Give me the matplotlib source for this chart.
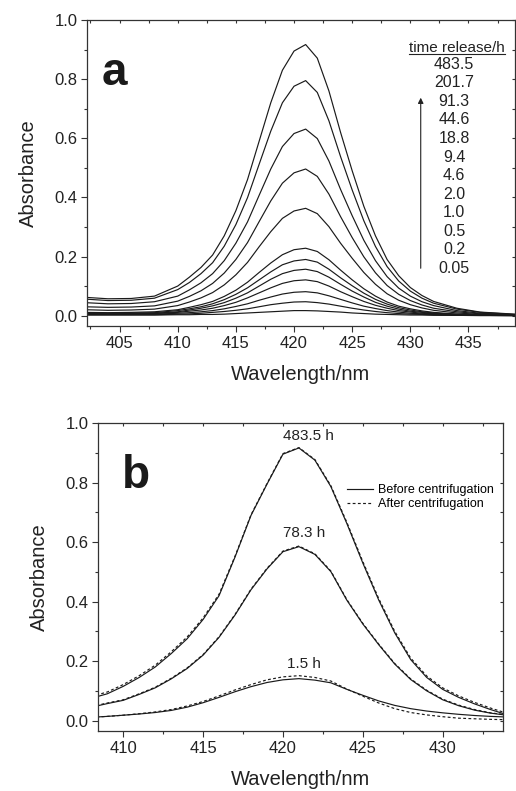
import numpy as np
import matplotlib
matplotlib.use("Agg")
import matplotlib.pyplot as plt
from matplotlib.ticker import MultipleLocator
from matplotlib.lines import Line2D

plt.rcParams['font.family'] = ['Liberation Sans', 'DejaVu Sans']

# ---- panel a: release spectra at increasing times ----
wl_a = [402, 404, 406, 408, 410, 411, 412, 413, 414, 415, 416, 417, 418, 419, 420,
        421, 422, 423, 424, 425, 426, 427, 428, 429, 430, 431, 432, 434, 436, 439]

a_483_5 = [0.062, 0.057, 0.058, 0.066, 0.100, 0.130, 0.163, 0.205, 0.270, 0.355, 0.460, 0.590, 0.720, 0.830, 0.895,
           0.917, 0.871, 0.760, 0.620, 0.490, 0.370, 0.270, 0.190, 0.135, 0.095, 0.068, 0.048, 0.025, 0.012, 0.005]
a_201_7 = [0.056, 0.051, 0.052, 0.059, 0.088, 0.112, 0.142, 0.179, 0.235, 0.308, 0.399, 0.512, 0.624, 0.720, 0.776,
           0.795, 0.755, 0.659, 0.538, 0.425, 0.321, 0.234, 0.166, 0.117, 0.083, 0.059, 0.042, 0.022, 0.011, 0.004]
a_91_3 = [0.044, 0.040, 0.041, 0.047, 0.066, 0.087, 0.111, 0.142, 0.186, 0.245, 0.317, 0.407, 0.496, 0.572, 0.616,
          0.631, 0.599, 0.523, 0.427, 0.338, 0.255, 0.186, 0.132, 0.093, 0.066, 0.047, 0.034, 0.017, 0.008, 0.003]
a_44_6 = [0.030, 0.028, 0.029, 0.033, 0.049, 0.065, 0.084, 0.109, 0.144, 0.190, 0.247, 0.318, 0.388, 0.448, 0.483,
          0.496, 0.471, 0.411, 0.335, 0.264, 0.199, 0.145, 0.102, 0.072, 0.051, 0.036, 0.025, 0.013, 0.006, 0.002]
a_18_8 = [0.020, 0.018, 0.019, 0.022, 0.034, 0.046, 0.060, 0.078, 0.104, 0.138, 0.180, 0.233, 0.284, 0.329, 0.354,
          0.363, 0.345, 0.301, 0.245, 0.194, 0.146, 0.106, 0.074, 0.052, 0.037, 0.026, 0.018, 0.009, 0.004, 0.002]
a_9_4 = [0.011, 0.010, 0.011, 0.013, 0.020, 0.028, 0.037, 0.048, 0.065, 0.086, 0.113, 0.146, 0.178, 0.206, 0.223,
         0.228, 0.217, 0.189, 0.154, 0.121, 0.091, 0.066, 0.046, 0.032, 0.023, 0.016, 0.011, 0.005, 0.003, 0.001]
a_4_6 = [0.009, 0.008, 0.009, 0.010, 0.017, 0.023, 0.030, 0.040, 0.054, 0.072, 0.094, 0.121, 0.148, 0.172, 0.185,
         0.190, 0.181, 0.157, 0.128, 0.101, 0.076, 0.055, 0.039, 0.027, 0.019, 0.013, 0.009, 0.004, 0.002, 0.001]
a_2_0 = [0.007, 0.006, 0.007, 0.008, 0.013, 0.019, 0.025, 0.033, 0.044, 0.059, 0.077, 0.100, 0.123, 0.142, 0.153,
         0.157, 0.149, 0.130, 0.106, 0.083, 0.063, 0.045, 0.032, 0.022, 0.015, 0.011, 0.007, 0.004, 0.002, 0.001]
a_1_0 = [0.006, 0.005, 0.005, 0.007, 0.011, 0.015, 0.019, 0.025, 0.034, 0.045, 0.060, 0.077, 0.094, 0.109, 0.118,
         0.121, 0.115, 0.100, 0.081, 0.064, 0.048, 0.035, 0.025, 0.017, 0.012, 0.008, 0.006, 0.003, 0.001, 0.001]
a_0_5 = [0.004, 0.004, 0.004, 0.005, 0.008, 0.010, 0.013, 0.017, 0.023, 0.031, 0.040, 0.052, 0.063, 0.073, 0.079,
         0.081, 0.077, 0.067, 0.055, 0.043, 0.032, 0.024, 0.017, 0.012, 0.008, 0.006, 0.004, 0.002, 0.001, 0.000]
a_0_2 = [0.003, 0.003, 0.003, 0.003, 0.005, 0.006, 0.008, 0.011, 0.014, 0.018, 0.023, 0.030, 0.037, 0.042, 0.046,
         0.047, 0.044, 0.039, 0.032, 0.025, 0.019, 0.014, 0.010, 0.007, 0.005, 0.004, 0.003, 0.001, 0.001, 0.000]
a_0_05 = [0.002, 0.002, 0.002, 0.002, 0.003, 0.003, 0.004, 0.004, 0.005, 0.007, 0.009, 0.011, 0.013, 0.015, 0.017,
          0.017, 0.016, 0.014, 0.012, 0.009, 0.007, 0.005, 0.004, 0.003, 0.002, 0.002, 0.001, 0.001, 0.000, 0.000]

curves_a = [a_483_5, a_201_7, a_91_3, a_44_6, a_18_8, a_9_4, a_4_6, a_2_0, a_1_0, a_0_5, a_0_2, a_0_05]
times_a = ["483.5", "201.7", "91.3", "44.6", "18.8", "9.4", "4.6", "2.0", "1.0", "0.5", "0.2", "0.05"]

# ---- panel b: before / after centrifugation ----
wl_b = [408, 409, 410, 411, 412, 413, 414, 415, 416, 417, 418, 419, 420, 421,
        422, 423, 424, 425, 426, 427, 428, 429, 430, 431, 432, 433, 434]

b_483_5_before = [0.075, 0.090, 0.115, 0.145, 0.180, 0.225, 0.275, 0.340, 0.420, 0.550, 0.690, 0.795, 0.896, 0.917,
                  0.876, 0.787, 0.663, 0.530, 0.405, 0.295, 0.205, 0.145, 0.105, 0.078, 0.056, 0.037, 0.020]
b_483_5_after = [0.081, 0.096, 0.121, 0.151, 0.186, 0.231, 0.281, 0.345, 0.425, 0.553, 0.692, 0.797, 0.898, 0.918,
                 0.878, 0.790, 0.667, 0.535, 0.410, 0.300, 0.210, 0.150, 0.110, 0.083, 0.061, 0.042, 0.025]
b_78_3_before = [0.045, 0.057, 0.068, 0.088, 0.110, 0.140, 0.175, 0.220, 0.280, 0.355, 0.440, 0.510, 0.568, 0.585,
                 0.559, 0.501, 0.405, 0.325, 0.255, 0.190, 0.138, 0.100, 0.070, 0.050, 0.035, 0.025, 0.018]
b_78_3_after = [0.047, 0.059, 0.070, 0.090, 0.112, 0.142, 0.177, 0.222, 0.282, 0.357, 0.442, 0.512, 0.570, 0.587,
                0.561, 0.503, 0.407, 0.327, 0.257, 0.192, 0.140, 0.102, 0.072, 0.052, 0.037, 0.026, 0.019]
b_1_5_before = [0.011, 0.014, 0.018, 0.022, 0.027, 0.034, 0.045, 0.060, 0.078, 0.097, 0.114, 0.128, 0.137, 0.141,
                0.136, 0.127, 0.105, 0.085, 0.066, 0.051, 0.040, 0.032, 0.026, 0.021, 0.017, 0.014, 0.012]
b_1_5_after = [0.011, 0.014, 0.018, 0.023, 0.029, 0.037, 0.049, 0.064, 0.083, 0.103, 0.121, 0.137, 0.147, 0.151,
               0.145, 0.133, 0.106, 0.082, 0.059, 0.040, 0.027, 0.019, 0.013, 0.008, 0.006, 0.004, 0.003]

labels_b = ["483.5 h", "78.3 h", "1.5 h"]
label_pos_b = [(421.6, 0.957), (421.35, 0.630), (421.3, 0.191)]

ink = '#1a1a1a'


def style_axes(ax, xmajor, xminor):
    for sp in ax.spines.values():
        sp.set_linewidth(0.9)
        sp.set_color('#333333')
    ax.xaxis.set_major_locator(MultipleLocator(xmajor))
    ax.xaxis.set_minor_locator(MultipleLocator(xminor))
    ax.yaxis.set_major_locator(MultipleLocator(0.2))
    ax.yaxis.set_minor_locator(MultipleLocator(0.1))
    ax.tick_params(which='major', direction='out', length=4, width=0.8, labelsize=12,
                   colors='#333333', labelcolor='#222222', pad=3)
    ax.tick_params(which='minor', direction='out', length=2.3, width=0.8, colors='#333333')
    ax.yaxis.set_major_formatter(plt.FuncFormatter(lambda v, p: f"{v:.1f}"))
    # mirrored ticks on top / right, pointing inwards
    top = ax.secondary_xaxis('top')
    top.xaxis.set_major_locator(MultipleLocator(xmajor))
    top.xaxis.set_minor_locator(MultipleLocator(xminor))
    top.tick_params(which='both', direction='in', length=2.5, width=0.8, labeltop=False, colors='#333333')
    top.spines['top'].set_visible(False)
    right = ax.secondary_yaxis('right')
    right.yaxis.set_major_locator(MultipleLocator(0.2))
    right.yaxis.set_minor_locator(MultipleLocator(0.1))
    right.tick_params(which='both', direction='in', length=2.5, width=0.8, labelright=False, colors='#333333')
    right.spines['right'].set_visible(False)
    ax.set_xlabel('Wavelength/nm', fontsize=14.5, color='#222222', labelpad=10)
    ax.set_ylabel('Absorbance', fontsize=14.5, color='#222222', labelpad=12)


fig = plt.figure(figsize=(5.16, 7.91), dpi=100)

# panel a
ax1 = fig.add_axes([0.1686, 0.5879, 0.8295, 0.3868])
for ys in curves_a:
    ax1.plot(wl_a, ys, color=ink, lw=0.85)
ax1.set_xlim(402.2, 439.0)
ax1.set_ylim(-0.035, 1.0)
style_axes(ax1, 5, 2.5)
ax1.text(0.035, 0.788, 'a', transform=ax1.transAxes, fontsize=33, fontweight='bold',
         color='#1a1a1a', ha='left', va='baseline')
ax1.text(0.8645, 0.897, 'time release/h', transform=ax1.transAxes, fontsize=11,
         color='#222222', ha='center', va='baseline')
ax1.plot([0.752, 0.977], [0.889, 0.889], transform=ax1.transAxes, color='#222222', lw=0.8)
ys_lab = np.linspace(0.855, 0.1886, len(times_a))
for t, yy in zip(times_a, ys_lab):
    ax1.text(0.858, yy, t, transform=ax1.transAxes, fontsize=11.5, color='#222222',
             ha='center', va='center')
ax1.annotate('', xy=(0.7797, 0.746), xytext=(0.7797, 0.1886), xycoords='axes fraction',
             arrowprops=dict(arrowstyle='-|>', lw=0.8, color='#222222', mutation_scale=8,
                             shrinkA=0, shrinkB=0))

# panel b
ax2 = fig.add_axes([0.1905, 0.0759, 0.785, 0.389])
pairs = [(b_483_5_before, b_483_5_after), (b_78_3_before, b_78_3_after), (b_1_5_before, b_1_5_after)]
for before, after in pairs:
    ax2.plot(wl_b, before, color=ink, lw=0.85)
    ax2.plot(wl_b, after, color=ink, lw=0.85, dashes=(2.4, 2.0))
for lab, (xx, yy) in zip(labels_b, label_pos_b):
    ax2.text(xx, yy, lab, fontsize=11, color='#222222', ha='center', va='center')
ax2.set_xlim(408.44, 433.8)
ax2.set_ylim(-0.035, 1.0)
style_axes(ax2, 5, 2.5)
ax2.text(0.058, 0.789, 'b', transform=ax2.transAxes, fontsize=33, fontweight='bold',
         color='#1a1a1a', ha='left', va='baseline')
handles = [Line2D([], [], color=ink, lw=0.85),
           Line2D([], [], color=ink, lw=0.85, dashes=(2.4, 2.0))]
ax2.legend(handles, ['Before centrifugation', 'After centrifugation'], loc='upper left',
           bbox_to_anchor=(0.613, 0.802), frameon=False, fontsize=9, handlelength=2.1,
           handletextpad=0.4, labelspacing=0.15, borderpad=0, borderaxespad=0)

fig.savefig('out.png', dpi=100)
